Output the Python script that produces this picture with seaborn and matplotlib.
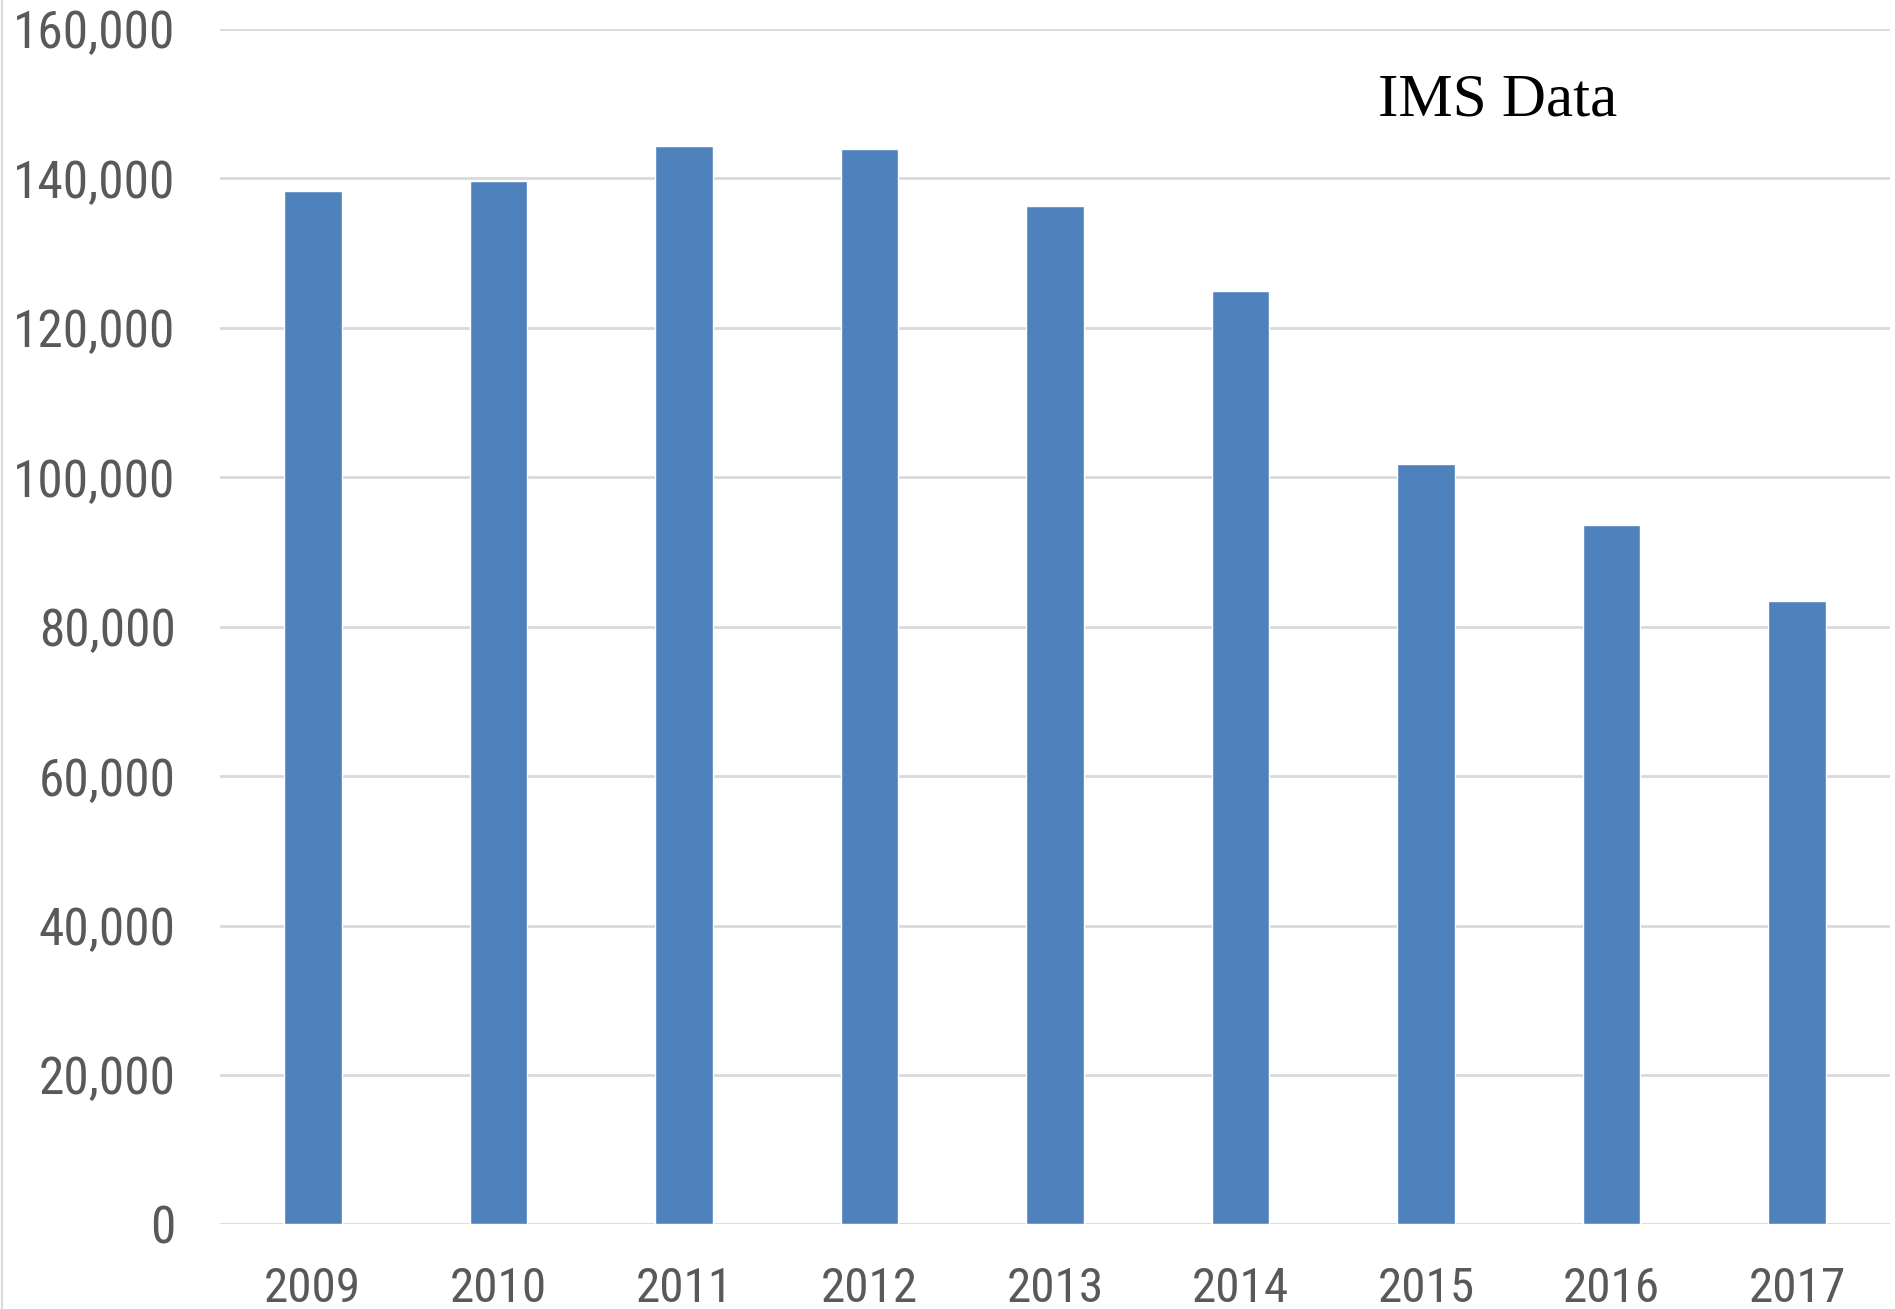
import matplotlib
matplotlib.use("Agg")
import matplotlib.pyplot as plt
import seaborn as sns
import pandas as pd
from matplotlib.ticker import FuncFormatter
from matplotlib.lines import Line2D
from matplotlib import font_manager as fm

years = ["2009", "2010", "2011", "2012", "2013", "2014", "2015", "2016", "2017"]
values = [138300, 139700, 144400, 143900, 136300, 124900, 101800, 93600, 83500]
y_ticks = [0, 20000, 40000, 60000, 80000, 100000, 120000, 140000, 160000]
annotation = "IMS Data"

df = pd.DataFrame({"year": years, "value": values})

sns.set_theme(style="white")

# pick a narrow sans font if one is installed, else Roboto
available = {f.name for f in fm.fontManager.ttflist}
narrow = None
for cand in ["Liberation Sans Narrow", "Roboto Condensed", "Arial Narrow", "Open Sans Condensed"]:
    if cand in available:
        narrow = cand
        break
if narrow is not None:
    fam = [narrow, "DejaVu Sans"]
    ysize, xsize = 37, 35.5
else:
    fam = ["Roboto", "DejaVu Sans"]
    ysize, xsize = 32, 31
plt.rcParams['font.family'] = fam

fig = plt.figure(figsize=(18.95, 13.09), dpi=100)
ax = fig.add_axes([220/1895, 1 - 1224.4/1309, (1890-220)/1895, (1224.4-29)/1309])

sns.barplot(data=df, x="year", y="value", color="#4F81BD", saturation=1,
            width=0.31, ax=ax, zorder=3)

ax.set_xlim(-0.5, 8.5)
ax.set_ylim(0, 160000)
ax.set_yticks(y_ticks)
ax.yaxis.set_major_formatter(FuncFormatter(lambda v, p: f"{int(v):,}"))
ax.grid(axis="y", color="#D9D9D9", linewidth=2, zorder=0)
ax.set_axisbelow(True)
for s in ax.spines.values():
    s.set_visible(False)
ax.set_xlabel("")
ax.set_ylabel("")
ax.tick_params(axis="both", length=0, colors="#595959")
ax.tick_params(axis="y", pad=32, labelsize=ysize)
ax.tick_params(axis="x", pad=30, labelsize=xsize)

ax.text(1378/1895, 1 - 115/1309, annotation, transform=fig.transFigure,
        fontsize=44, family=['Liberation Serif', 'DejaVu Serif'], color="black",
        ha="left", va="baseline")

fig.add_artist(Line2D([1.5/1895, 1.5/1895], [0, 1], transform=fig.transFigure,
                      color="#D9D9D9", linewidth=1.5))

fig.savefig("out.png", dpi=100)
